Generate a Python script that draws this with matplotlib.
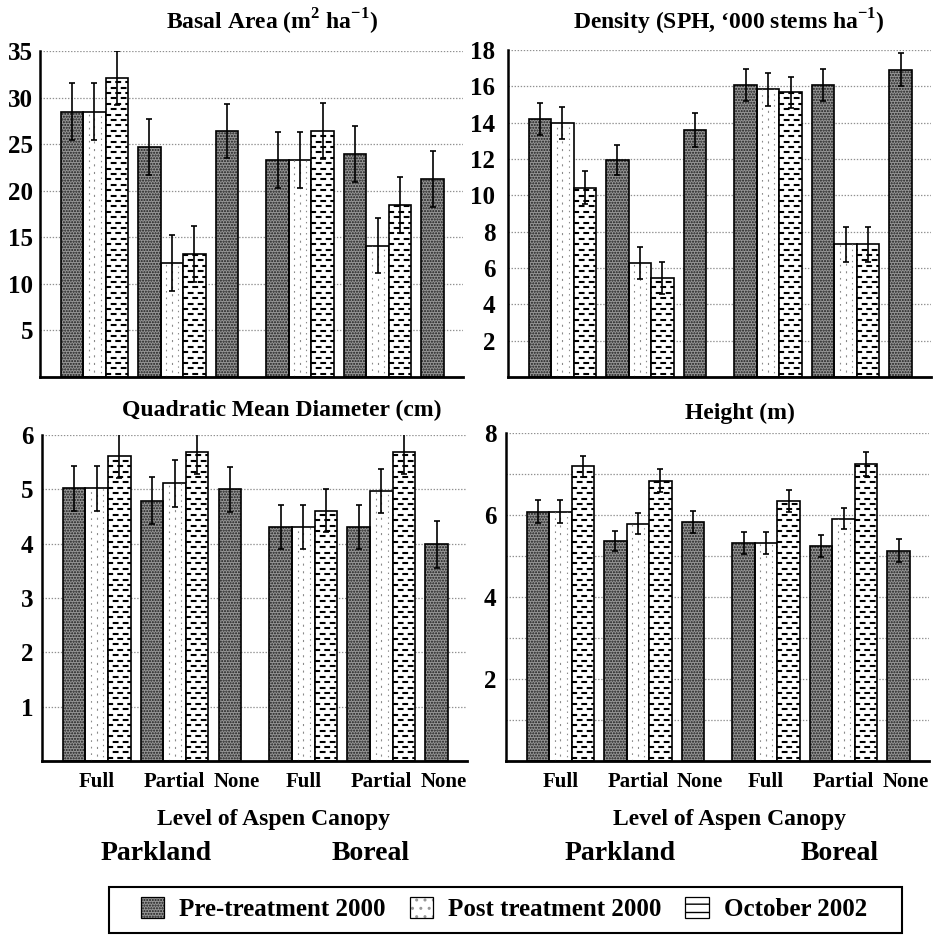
import numpy as np
import matplotlib
matplotlib.use('Agg')
import matplotlib.pyplot as plt
from matplotlib.patches import Rectangle
from matplotlib.legend_handler import HandlerTuple

plt.rcParams['font.family'] = 'Liberation Serif'
plt.rcParams['font.weight'] = 'bold'
plt.rcParams['mathtext.fontset'] = 'custom'
plt.rcParams['mathtext.rm'] = 'Liberation Serif:bold'
plt.rcParams['mathtext.bf'] = 'Liberation Serif:bold'
plt.rcParams['lines.scale_dashes'] = False
plt.rcParams['hatch.linewidth'] = 1.0

nan = np.nan
series = ['Pre-treatment 2000', 'Post treatment 2000', 'October 2002']
canopy = ['Full', 'Partial', 'None']
regions = ['Parkland', 'Boreal']

# order: Parkland Full, Partial, None, Boreal Full, Partial, None
# (no-canopy plots were only measured before treatment)
basal_pre = [28.5, 24.7, 26.4, 23.3, 23.9, 21.25]
basal_post = [28.5, 12.2, nan, 23.3, 14.1, nan]
basal_oct = [32.1, 13.2, nan, 26.4, 18.45, nan]
basal_err_pre = [3.1, 3.0, 2.9, 3.0, 3.0, 3.0]
basal_err_post = [3.1, 3.0, nan, 3.0, 2.95, nan]
basal_err_oct = [2.9, 3.0, nan, 3.0, 3.0, nan]

dens_pre = [14.18, 11.94, 13.59, 16.07, 16.07, 16.92]
dens_post = [14.0, 6.28, nan, 15.83, 7.31, nan]
dens_oct = [10.42, 5.47, nan, 15.67, 7.31, nan]
dens_err_pre = [0.88, 0.83, 0.92, 0.88, 0.88, 0.9]
dens_err_post = [0.88, 0.88, nan, 0.92, 0.96, nan]
dens_err_oct = [0.9, 0.88, nan, 0.86, 0.96, nan]

qmd_pre = [5.02, 4.79, 5.0, 4.31, 4.31, 3.99]
qmd_post = [5.02, 5.11, nan, 4.31, 4.97, nan]
qmd_oct = [5.62, 5.69, nan, 4.61, 5.69, nan]
qmd_err_pre = [0.41, 0.43, 0.42, 0.4, 0.4, 0.43]
qmd_err_post = [0.41, 0.43, nan, 0.4, 0.4, nan]
qmd_err_oct = [0.41, 0.4, nan, 0.39, 0.4, nan]

ht_pre = [6.08, 5.36, 5.82, 5.32, 5.24, 5.13]
ht_post = [6.08, 5.79, nan, 5.32, 5.91, nan]
ht_oct = [7.19, 6.83, nan, 6.34, 7.25, nan]
ht_err_pre = [0.28, 0.25, 0.27, 0.27, 0.27, 0.28]
ht_err_post = [0.28, 0.25, nan, 0.27, 0.25, nan]
ht_err_oct = [0.26, 0.28, nan, 0.26, 0.29, nan]

W = 0.29
groups = np.array([0, 1, 2, 2.65, 3.65, 4.65])
label_x = [0, 1, 1.8, 2.65, 3.65, 4.45]

PRE_FACE = '#969696'
PRE_DOTS = '#1a1a1a'


def bar_positions(k):
    # None groups hold a single bar at the first slot
    return groups + (k - 1) * W


def draw_pre(ax, x, h):
    ax.bar(x, h, W, color=PRE_FACE, edgecolor=PRE_DOTS, hatch='......', lw=0, zorder=2)
    ax.bar(x, h, W, fill=False, edgecolor='black', lw=1.2, zorder=2.5)


def draw_post(ax, x, h, dy):
    bars = ax.bar(x, h, W, color='white', edgecolor='black', lw=1.2, zorder=2)
    for b in bars:
        if np.isnan(b.get_height()):
            continue
        x0 = b.get_x()
        cols = x0 + W * np.array([0.25, 0.5, 0.78])
        styles = [(0, (1.2, 3.5)), (2.0, (1.5, 4.0)), (1.0, (1.0, 3.0))]
        lc = ax.vlines(cols, 0, b.get_height(), colors='#8a8a8a', lw=0.8,
                       linestyles=styles, zorder=2.2)
        lc.set_clip_path(b)


def draw_oct(ax, x, h, dy):
    bars = ax.bar(x, h, W, color='white', edgecolor='black', lw=1.2, zorder=2)
    for b in bars:
        if np.isnan(b.get_height()):
            continue
        ys = np.arange(dy * 0.6, b.get_height(), dy)
        styles = [(0.5, (4.2, 3.0)) if i % 2 == 0 else (3.8, (4.2, 3.0)) for i in range(len(ys))]
        lc = ax.hlines(ys, b.get_x(), b.get_x() + W, colors='black', lw=1.5,
                       linestyles=styles, zorder=2.2)
        lc.set_clip_path(b)


fig = plt.figure(figsize=(9.36, 9.36), dpi=100)

panels = [
    ([40, 377, 463, 51], r'Basal Area (m$^{\mathrm{2}}$ ha$^{\mathrm{-1}}$)', 272, 22,
     (basal_pre, basal_post, basal_oct), (basal_err_pre, basal_err_post, basal_err_oct),
     35, np.arange(5, 36, 5), np.arange(5, 36, 5), 5, False),
    ([508, 377, 931, 50], "Density (SPH, \u2018000 stems ha$^{\\mathrm{-1}}$)", 729, 22,
     (dens_pre, dens_post, dens_oct), (dens_err_pre, dens_err_post, dens_err_oct),
     18, np.arange(2, 19, 2), np.arange(2, 19, 2), 9, False),
    ([42, 761, 467, 435], 'Quadratic Mean Diameter (cm)', 282, 410,
     (qmd_pre, qmd_post, qmd_oct), (qmd_err_pre, qmd_err_post, qmd_err_oct),
     6, np.arange(1, 7), np.arange(1, 7), 6, True),
    ([506, 761, 929, 433], 'Height (m)', 740, 413,
     (ht_pre, ht_post, ht_oct), (ht_err_pre, ht_err_post, ht_err_oct),
     8, np.arange(2, 9, 2), np.arange(1, 9), 7, True),
]

S = 936.0
for box, title, tx, ty, vals, errs, ymax, ticks, grid, pad, xlab in panels:
    l, b, r, t = box
    ax = fig.add_axes([l / S, 1 - b / S, (r - l) / S, (b - t) / S])
    ax.set_xlim(-0.7, 4.75)
    ax.set_ylim(0, ymax)
    dy = ymax * 5.4 / (b - t)
    pre, post, octo = [np.array(v, dtype=float) for v in vals]
    e_pre, e_post, e_oct = [np.array(v, dtype=float) for v in errs]

    draw_pre(ax, bar_positions(0), pre)
    draw_post(ax, bar_positions(1), post, dy)
    draw_oct(ax, bar_positions(2), octo, dy)
    for k, (h, e) in enumerate([(pre, e_pre), (post, e_post), (octo, e_oct)]):
        ax.errorbar(bar_positions(k), h, yerr=e, fmt='none', ecolor='black',
                    elinewidth=1.2, capsize=2.5, capthick=1.2, zorder=3)

    for g in grid:
        ax.axhline(g, color='#909090', lw=0.9, ls=(0, (1.0, 1.2)), zorder=1)
    ax.set_yticks(ticks)
    ax.set_yticklabels([str(v) for v in ticks], fontsize=18)
    ax.tick_params(axis='y', length=0, pad=pad)
    if xlab:
        ax.set_xticks(label_x)
        ax.set_xticklabels(canopy * 2, fontsize=15)
        ax.tick_params(axis='x', length=0, pad=8)
    else:
        ax.set_xticks([])
    for s in ['top', 'right']:
        ax.spines[s].set_visible(False)
    ax.spines['left'].set_linewidth(1.8)
    ax.spines['bottom'].set_linewidth(2.0)
    fig.text(tx / S, 1 - ty / S, title, fontsize=17, ha='center', va='center')

for cx in [274, 730]:
    fig.text(cx / S, 1 - 820 / S, 'Level of Aspen Canopy', fontsize=17, ha='center', va='center')
for cx, name in [(156, 'Parkland'), (371, 'Boreal'), (620, 'Parkland'), (840, 'Boreal')]:
    fig.text(cx / S, 1 - 853 / S, name, fontsize=20, ha='center', va='center')

fig.patches.append(Rectangle((109 / S, 3 / S), 793 / S, 46 / S, transform=fig.transFigure,
                             fill=False, edgecolor='black', lw=1.5))


def outline():
    return Rectangle((0, 0), 1, 1, fill=False, edgecolor='black', lw=0.9)


handles = [
    (Rectangle((0, 0), 1, 1, facecolor=PRE_FACE, edgecolor=PRE_DOTS, hatch='......', lw=0), outline()),
    (Rectangle((0, 0), 1, 1, facecolor='white', edgecolor='#999999', hatch='..', lw=0), outline()),
    (Rectangle((0, 0), 1, 1, facecolor='white', edgecolor='black', hatch='--', lw=0), outline()),
]
fig.legend(handles, series, loc='center', bbox_to_anchor=(504 / S, 1 - 909 / S), ncol=3,
           frameon=False, fontsize=18, handlelength=0.95, handleheight=0.95,
           handletextpad=0.6, columnspacing=0.95,
           handler_map={tuple: HandlerTuple(ndivide=1, pad=0)})

fig.savefig('out.png', dpi=100)
